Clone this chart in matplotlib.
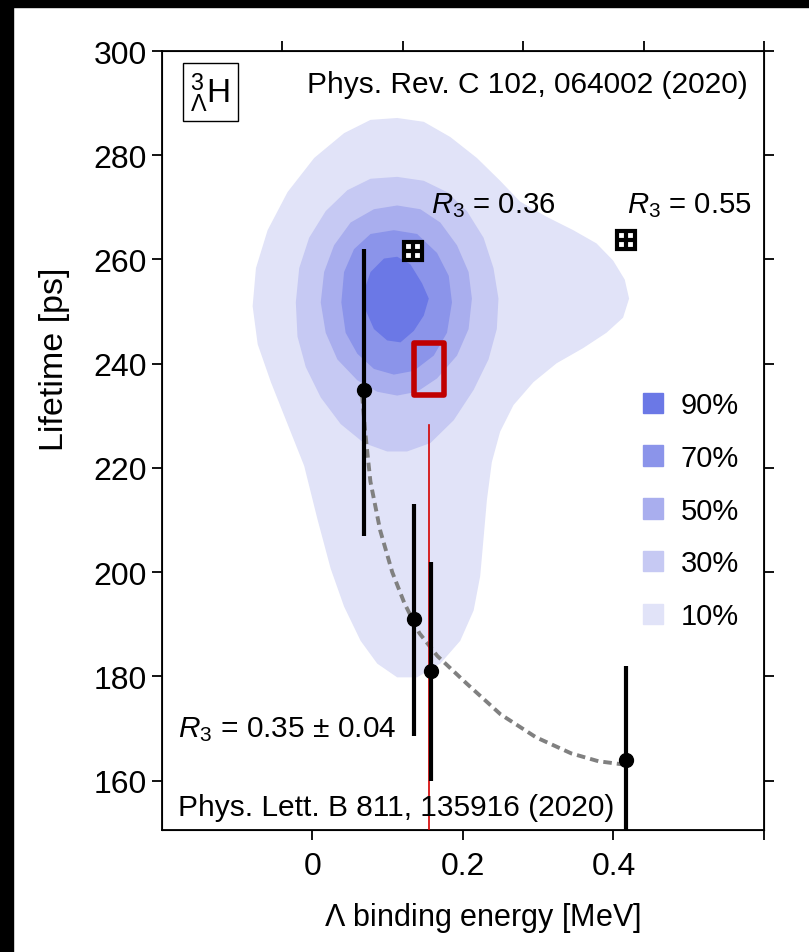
import matplotlib
matplotlib.use('Agg')
import matplotlib.pyplot as plt
from matplotlib.patches import Patch, Rectangle

plt.rcParams['font.family'] = ['Liberation Sans', 'DejaVu Sans']
plt.rcParams['mathtext.fontset'] = 'custom'
plt.rcParams['mathtext.rm'] = 'Liberation Sans'
plt.rcParams['mathtext.it'] = 'Liberation Sans:italic'

# measured lifetimes vs binding energy (points with error bars)
meas_x = [0.069, 0.135, 0.158, 0.417]
meas_y = [235, 191, 181, 164]
meas_err_lo = [28, 22.5, 21, 18]
meas_err_hi = [27, 22, 21, 18]

# R3 = 0.35 +- 0.04 curve (dashed)
curve_x = [0.066, 0.070, 0.077, 0.090, 0.106, 0.122, 0.142, 0.166, 0.205,
           0.250, 0.297, 0.344, 0.380, 0.412]
curve_y = [234.0, 227.0, 217.4, 208.0, 200.0, 194.1, 188.3, 183.9, 178.6,
           172.7, 168.3, 165.2, 163.7, 163.1]

# Phys. Rev. C 102 calculations
calc_x = [0.134, 0.417]
calc_y = [261.7, 263.7]
calc_labels = [r'$R_3$ = 0.36', r'$R_3$ = 0.55']
calc_label_x = [0.157, 0.4175]
calc_label_y = 270.6

# experimental box and binding energy line
box_x = [0.135, 0.175]
box_y = [234, 244]
be_x = 0.155
be_top = 228.3

# credible-region outlines (x in MeV, y in ps), outermost first
levels = ['10%', '30%', '50%', '70%', '90%']
colors = ['#e1e3f8', '#c6c9f3', '#a9aeee', '#8b94ea', '#6b78e6']
reg10_x = [0.1126, 0.1479, 0.1832, 0.2185, 0.2494, 0.2759, 0.3113, 0.3466,
           0.3775, 0.3996, 0.4150, 0.4208, 0.4128, 0.3907, 0.3599, 0.3245,
           0.2936, 0.2672, 0.2494, 0.2384, 0.2318, 0.2274, 0.2229, 0.2142,
           0.1964, 0.1699, 0.1391, 0.1126, 0.0861, 0.0640, 0.0420, 0.0242,
           0.0066, -0.0110, -0.0331, -0.0552, -0.0728, -0.0795, -0.0751,
           -0.0596, -0.0331, 0.0023, 0.0420, 0.0772]
reg10_y = [287.15, 286.42, 283.50, 279.48, 275.11, 271.11, 268.18, 265.62,
           263.08, 259.79, 256.14, 252.49, 248.83, 245.93, 243.00, 240.08,
           236.44, 232.06, 226.94, 221.11, 213.81, 206.52, 199.22, 192.64,
           186.81, 182.43, 179.8, 179.8, 182.43, 186.81, 193.39, 200.67,
           210.17, 220.38, 228.41, 236.44, 243.73, 251.03, 258.34,
           265.62, 272.93, 279.48, 284.24, 286.79]
reg30_x = [0.1126, 0.1479, 0.1788, 0.2053, 0.2274, 0.2406, 0.2472, 0.2450,
           0.2340, 0.2142, 0.1877, 0.1567, 0.1258, 0.0993, 0.0685, 0.0375,
           0.0110, -0.0089, -0.0199, -0.0221, -0.0176, -0.0044, 0.0176,
           0.0464, 0.0772]
reg30_y = [275.85, 275.10, 272.93, 269.28, 264.17, 258.34, 252.49, 246.65,
           240.82, 234.97, 229.14, 224.76, 223.15, 223.15, 224.76, 228.41,
           233.52, 239.35, 245.20, 251.76, 258.34, 264.17, 269.28,
           273.29, 275.49]
reg50_x = [0.1126, 0.1434, 0.1699, 0.1921, 0.2075, 0.2119, 0.2075, 0.1921,
           0.1656, 0.1391, 0.1126, 0.0861, 0.0596, 0.0331, 0.0176, 0.0110,
           0.0155, 0.0287, 0.0507, 0.0817]
reg50_y = [270.36, 269.64, 267.09, 262.72, 257.59, 252.49, 246.65, 241.55,
           237.17, 234.61, 233.88, 234.61, 236.81, 240.82, 245.93, 251.76,
           257.59, 262.72, 267.09, 269.64]
reg70_x = [0.1082, 0.1391, 0.1656, 0.1811, 0.1854, 0.1788, 0.1612, 0.1347,
           0.1082, 0.0817, 0.0596, 0.0441, 0.0384, 0.0420, 0.0552, 0.0772]
reg70_y = [265.62, 264.89, 261.24, 256.86, 251.76, 245.93, 241.55, 238.62,
           237.90, 238.99, 241.91, 245.93, 251.76, 257.59, 261.97, 264.89]
reg90_x = [0.1126, 0.1302, 0.1457, 0.1546, 0.1479, 0.1347, 0.1170, 0.0993,
           0.0817, 0.0706, 0.0685, 0.0772, 0.0950]
reg90_y = [260.52, 259.06, 255.41, 252.49, 249.22, 246.29, 244.09, 244.46,
           246.65, 250.30, 253.96, 257.59, 260.17]
regions_x = [reg10_x, reg30_x, reg50_x, reg70_x, reg90_x]
regions_y = [reg10_y, reg30_y, reg50_y, reg70_y, reg90_y]

fig = plt.figure(figsize=(8.09, 9.53), dpi=100)
fig.patch.set_facecolor('white')
fig.add_artist(Rectangle((0, 0), 13 / 809, 1, transform=fig.transFigure,
                         color='black', zorder=-10))
fig.add_artist(Rectangle((0, 1 - 8 / 953), 1, 8 / 953, transform=fig.transFigure,
                         color='black', zorder=-10))

ax = fig.add_axes([0.2002, 0.128, 0.7441, 0.8174])

for rx, ry, c in zip(regions_x, regions_y, colors):
    ax.fill(rx, ry, color=c, lw=0, zorder=1)

ax.plot(curve_x, curve_y, ls=(0, (2.2, 1.3)), color='#808080', lw=2.8, zorder=2)

ax.plot([be_x, be_x], [140, be_top], color='#d40000', lw=1.2, zorder=3)
ax.add_patch(Rectangle((box_x[0], box_y[0]), box_x[1] - box_x[0], box_y[1] - box_y[0],
                       fill=False, edgecolor='#c00000', lw=4, joinstyle='round', zorder=4))

ax.errorbar(meas_x, meas_y, yerr=[meas_err_lo, meas_err_hi], fmt='o', color='black',
            ms=10, elinewidth=3, capsize=0, zorder=5)

ax.plot(calc_x, calc_y, ls='none', marker='s', ms=12.5, mfc='white', mec='black',
        mew=3, zorder=6)
ax.plot(calc_x, calc_y, ls='none', marker='+', ms=12.5, mec='black', mew=3, zorder=6)
for x, lab in zip(calc_label_x, calc_labels):
    ax.text(x, calc_label_y, lab, fontsize=21.2, ha='left', va='center')

ax.text(0.027, 0.130, r'$R_3$ = 0.35 $\pm$ 0.04', transform=ax.transAxes,
        fontsize=21.5, ha='left', va='center')
ax.text(0.027, 0.030, 'Phys. Lett. B 811, 135916 (2020)', transform=ax.transAxes,
        fontsize=21.5, ha='left', va='center')
ax.text(0.973, 0.958, 'Phys. Rev. C 102, 064002 (2020)', transform=ax.transAxes,
        fontsize=21.5, ha='right', va='center')
ax.text(0.080, 0.947, r'${}^{3}_{\Lambda}\mathrm{H}$', transform=ax.transAxes,
        fontsize=24, ha='center', va='center',
        bbox=dict(boxstyle='square,pad=0.22', fc='white', ec='black', lw=1))

handles = [Patch(color=c) for c in colors[::-1]]
ax.legend(handles, levels[::-1], loc='center left', bbox_to_anchor=(0.755, 0.41),
          frameon=False, fontsize=21, handlelength=0.7, handleheight=0.7,
          handletextpad=0.6, labelspacing=0.85)

ax.set_xlim(-0.2, 0.6)
ax.set_ylim(150.5, 300)
ax.set_xticks([0, 0.2, 0.4, 0.6])
ax.set_xticklabels(['0', '0.2', '0.4', ''])
ax.set_yticks([160, 180, 200, 220, 240, 260, 280, 300])
ax.tick_params(axis='both', direction='out', length=7, width=1.3, labelsize=23,
               right=True, pad=4)
ax.tick_params(axis='x', pad=8)
for s in ax.spines.values():
    s.set_linewidth(1.3)

top = ax.twiny()
top.set_xlim(ax.get_xlim())
top.set_xticks([-0.04, 0.12, 0.28, 0.44, 0.60])
top.set_xticklabels([])
top.tick_params(direction='out', length=7, width=1.3)

ax.set_xlabel(r'$\Lambda$ binding energy [MeV]', fontsize=22)
ax.xaxis.set_label_coords(0.533, -0.090)
ax.set_ylabel('Lifetime [ps]', fontsize=24.5)
ax.yaxis.set_label_coords(-0.152, 0.605)

fig.savefig('out.png', dpi=100)
